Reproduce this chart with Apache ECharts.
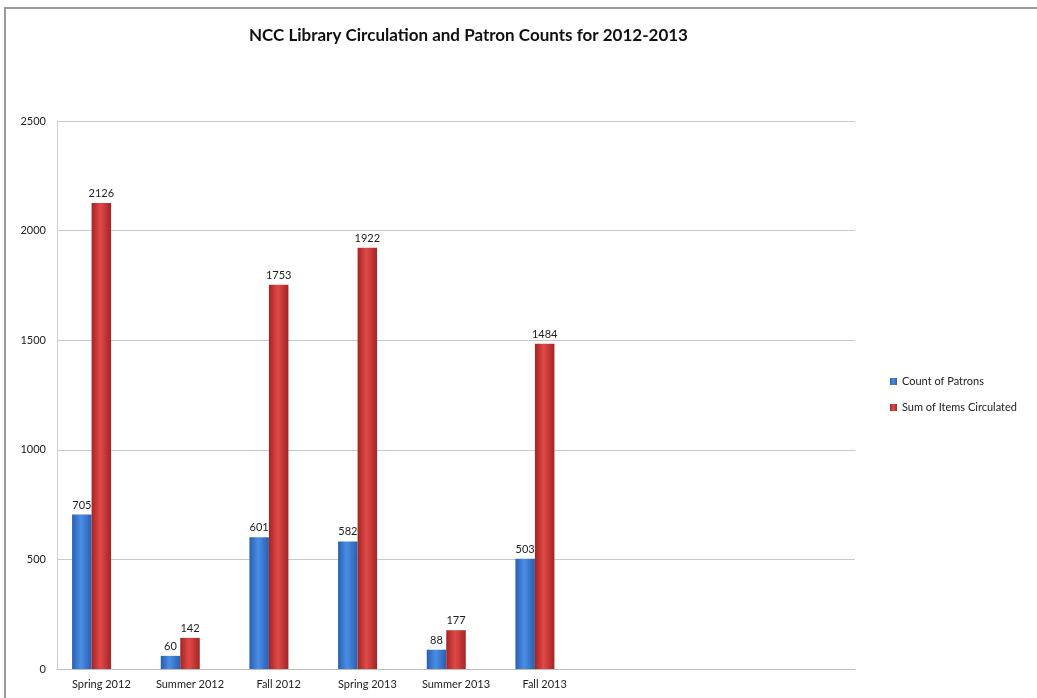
<!DOCTYPE html>
<html>
<head>
<meta charset="utf-8">
<script src="https://cdn.jsdelivr.net/npm/echarts@6/dist/echarts.min.js"></script>
<style>
  html, body { margin: 0; padding: 0; background: #fff; }
  #chart { width: 1037px; height: 698px; }
</style>
</head>
<body>
<div id="chart"></div>
<script>
  // terms along the x axis
  const terms = ['Spring 2012', 'Summer 2012', 'Fall 2012', 'Spring 2013', 'Summer 2013', 'Fall 2013']
  const patrons = [705, 60, 601, 582, 88, 503]
  const circulated = [2126, 142, 1753, 1922, 177, 1484]
  const yTicks = [0, 500, 1000, 1500, 2000, 2500]

  const font = 'Lato, "Open Sans", sans-serif'

  function barColor (edge, mid) {
    return new echarts.graphic.LinearGradient(0, 0, 1, 0, [
      { offset: 0, color: edge },
      { offset: 0.45, color: mid },
      { offset: 1, color: edge }
    ])
  }

  const labelStyle = {
    show: true,
    position: 'top',
    distance: 4,
    color: '#222',
    fontSize: 11,
    fontFamily: font
  }

  let chart = echarts.init(document.getElementById('chart'))
  chart.setOption({
    animation: false,
    backgroundColor: '#fff',
    title: {
      text: 'NCC Library Circulation and Patron Counts for 2012-2013',
      left: 244,
      top: 22,
      textStyle: { fontFamily: font, fontSize: 17, fontWeight: 'bold', color: '#111' }
    },
    graphic: [{
      type: 'rect',
      shape: { x: 5, y: 8, width: 1100, height: 800 },
      style: { fill: 'none', stroke: '#9a9a9a', lineWidth: 2 },
      silent: true
    }],
    legend: {
      data: ['Count of Patrons', 'Sum of Items Circulated'],
      orient: 'vertical',
      left: 885,
      top: 371,
      itemWidth: 7,
      itemHeight: 7,
      itemGap: 15,
      icon: 'rect',
      textStyle: { fontFamily: font, fontSize: 11, color: '#222' }
    },
    grid: { left: 57, right: 182, top: 121, bottom: 29 },
    xAxis: {
      type: 'category',
      data: terms,
      max: 8,
      axisLine: { lineStyle: { color: '#bdbdbd' } },
      axisTick: { show: false },
      axisLabel: { interval: 0, margin: 10, color: '#222', fontSize: 11, fontFamily: font }
    },
    yAxis: {
      type: 'value',
      min: yTicks[0],
      max: yTicks[yTicks.length - 1],
      interval: 500,
      axisLine: { show: true, lineStyle: { color: '#cfcfcf' } },
      axisTick: { show: false },
      axisLabel: {
        margin: 11,
        color: '#222',
        fontSize: 11,
        fontFamily: font,
        formatter: (v) => String(v)
      },
      splitLine: { lineStyle: { color: '#c8c8c8' } }
    },
    series: [{
      name: 'Count of Patrons',
      type: 'bar',
      data: patrons,
      barWidth: 19.5,
      barGap: '0%',
      itemStyle: { color: barColor('#2a5fae', '#4a8ee6') },
      label: labelStyle
    }, {
      name: 'Sum of Items Circulated',
      type: 'bar',
      data: circulated,
      barWidth: 19.5,
      barGap: '0%',
      itemStyle: { color: barColor('#a42424', '#e04a48') },
      label: labelStyle
    }, {
      // empty slot so the bar pairs sit left of the label like the 3D excel chart
      name: 'spacer',
      type: 'bar',
      data: terms.map(() => null),
      barWidth: 19.5,
      barGap: '0%',
      silent: true
    }]
  })
</script>
</body>
</html>
